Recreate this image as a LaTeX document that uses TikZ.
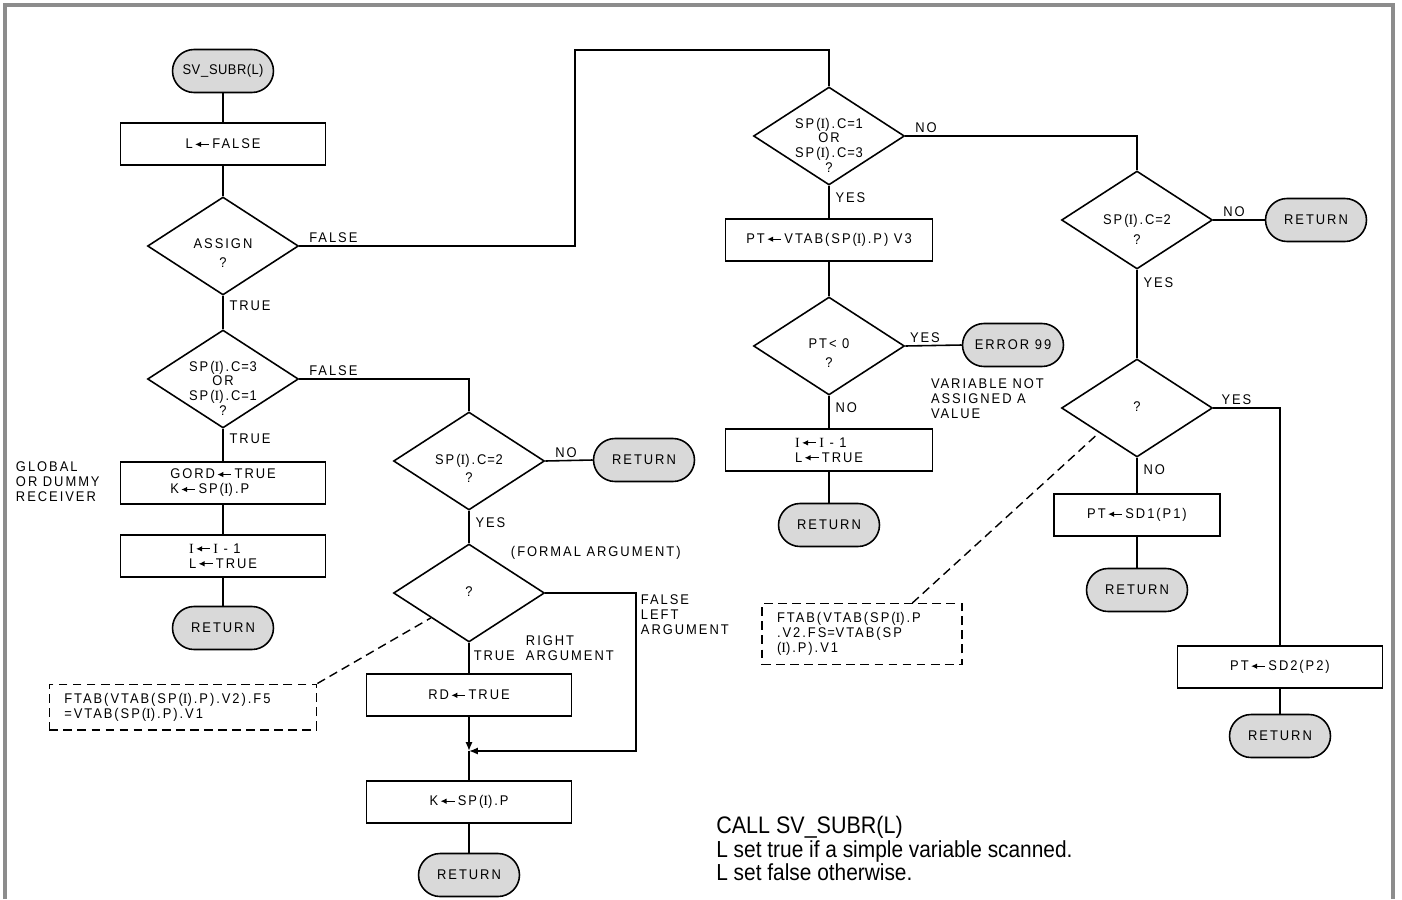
\documentclass[tikz,border=0pt]{standalone}
\usepackage{fontspec}
\setmainfont[LetterSpace=14, FakeStretch=0.92]{Liberation Sans}
\newfontfamily\serifI[LetterSpace=14]{Liberation Serif}
\newfontfamily\capfont[FakeStretch=0.9]{Liberation Sans}
\usepackage{tikz}
\usetikzlibrary{arrows.meta, shapes.geometric, shapes.misc, calc, positioning}

% assignment arrow, serif I, equals sign, diamond text of zero size
\newcommand{\asgn}{\kern1pt\tikz[baseline=-0.6ex]\draw[{Latex[length=3.4pt,width=3.2pt]}-,
  line width=0.7pt] (0pt,0pt) -- (8pt,0pt);\kern1.5pt}
\newcommand{\Ii}{{\serifI I}}
\newcommand{\eq}{\kern0.5pt=\kern0.5pt}
\newcommand{\dtext}[2][-2.5pt]{\smash{\makebox[0pt]{\raisebox{#1}{%
  \begin{tabular}{@{}c@{}}#2\end{tabular}}}}}

\begin{document}
\begin{tikzpicture}[
  x=0.02cm, y=-0.02cm,
  every node/.style = {font=\fontsize{8}{8.5}\selectfont},
  term/.style  = {draw, rounded rectangle, fill=black!15, line width=0.9pt,
                  minimum width=2.16cm, minimum height=0.86cm, inner sep=2pt},
  proc/.style  = {draw, rectangle, line width=0.9pt, align=left,
                  minimum width=4.1cm, minimum height=0.84cm, inner sep=2pt},
  dec/.style   = {draw, diamond, line width=0.9pt, inner sep=0pt,
                  minimum width=3.02cm, minimum height=1.96cm},
  note/.style  = {draw, dashed, dash pattern=on 5pt off 3pt, line width=0.8pt,
                  align=left, text width=#1, inner xsep=8.5pt, inner ysep=5pt},
  lbl/.style   = {inner sep=1.5pt, align=left},
  wire/.style  = {line width=0.9pt},
  lead/.style  = {line width=0.8pt, dash pattern=on 5pt off 3pt},
  tip/.style   = {-{Latex[length=5pt,width=4pt]}},
  frame/.style = {line width=1.8pt, black!45},
]
\useasboundingbox (0,0) rectangle (1402,899);

% Column x-positions
\def\xA{223}    % left column
\def\xB{469}    % formal argument column
\def\xC{829}    % simple / array column
\def\xD{1137}   % right column

% page frame
\draw[frame] (5,899) -- (5,5) -- (1393,5) -- (1393,899);

% ── LEFT COLUMN ─────────────────────────────────────────────────────────────
\node[term] at (\xA,71) (start)
  {\addfontfeatures{LetterSpace=3}SV\kern0.5pt\_\kern0.5pt SUBR(L)};
\node[proc] at (\xA,144) (lfalse) {L\asgn FALSE};
\node[dec] at (\xA,246) (assign) {\dtext[-7pt]{ASSIGN\\[2pt]?}};
\node[dec] at (\xA,379) (sp31)
  {\dtext[-8.5pt]{SP(\Ii).C\eq3\\OR\\SP(\Ii).C\eq1\\?}};
\node[proc] at (\xA,483) (gord) {GORD\asgn TRUE\\K\asgn SP(\Ii).P};
\node[proc] at (\xA,556) (decL) {\Ii\asgn\Ii{} - 1\\L\asgn TRUE};
\node[term] at (\xA,628) (retA) {RETURN};

\node[lbl, anchor=west] at (13,482) (glob) {GLOBAL\\OR DUMMY\\RECEIVER};

\draw[wire] (start.south) -- (lfalse.north);
\draw[wire] (lfalse.south) -- (assign.north);
\draw[wire] (assign.south) -- (sp31.north);
\draw[wire] (sp31.south) -- (gord.north);
\draw[wire] (gord.south) -- (decL.north);
\draw[wire] (decL.south) -- (retA.north);

\node[lbl, anchor=south west, xshift=4pt] at (assign.east) (fA) {FALSE};
\node[lbl, anchor=north west, xshift=2pt, yshift=-1pt] at (assign.south) (tA) {TRUE};
\node[lbl, anchor=south west, xshift=4pt] at (sp31.east) (fB) {FALSE};
\node[lbl, anchor=north west, xshift=2pt, yshift=-1pt] at (sp31.south) (tB) {TRUE};

% ── FORMAL ARGUMENT ─────────────────────────────────────────────────────────
\node[dec] at (\xB,461) (sp2a) {\dtext[-7.5pt]{SP(\Ii).C\eq2\\[2pt]?}};
\node[term] at (644,460) (retB) {RETURN};
\node[dec] at (\xB,593) (fa) {\dtext{?}};
\node[proc] at (\xB,695) (rd) {RD\asgn TRUE};
\node[proc] at (\xB,802) (kp) {K\asgn SP(\Ii).P};
\node[term] at (\xB,875) (retC) {RETURN};
\coordinate (join) at (\xB,751);
\coordinate (leftArg) at (636,751);

\node[note=4.75cm] at (183,707) (noteL)
  {FTAB(VTAB(SP(\Ii).P).V2).F5\\=VTAB(SP(\Ii).P).V1};

\draw[wire] (sp31.east) -| (sp2a.north);
\draw[wire] (sp2a.east) -- (retB.west);
\draw[wire] (sp2a.south) -- (fa.north);
\draw[wire] (fa.south) -- (rd.north);
\draw[wire, tip] (rd.south) -- (join);
\draw[wire, tip] (fa.east) -| (leftArg) -- (join);
\draw[wire] (join) -- (kp.north);
\draw[wire] (kp.south) -- (retC.north);
\draw[lead] (noteL.north east) -- (fa.south west);

\node[lbl, anchor=south west, xshift=4pt] at (sp2a.east) (nA) {NO};
\node[lbl, anchor=north west, xshift=2pt, yshift=-2pt] at (sp2a.south) (yA) {YES};
\node[lbl, anchor=west] at (508,553) (formal) {(FORMAL ARGUMENT)};
\node[lbl, anchor=north west] at (638,592) (leftTxt) {FALSE\\LEFT\\ARGUMENT};
\node[lbl, anchor=north west, xshift=1pt, yshift=-3pt] at (fa.south) (tC) {TRUE};
\node[lbl, anchor=west] at (523,648) (rightTxt) {RIGHT\\ARGUMENT};

% ── SIMPLE VARIABLE ─────────────────────────────────────────────────────────
\coordinate (falseTop) at (575,50);
\node[dec] at (\xC,136) (sp13)
  {\dtext[-8.5pt]{SP(\Ii).C\eq1\\OR\\SP(\Ii).C\eq3\\?}};
\node[proc, minimum width=4.14cm] at (\xC,240) (ptv) {PT\asgn VTAB(SP(\Ii).P) V3};
\node[dec] at (\xC,346) (pt0) {\dtext[-7pt]{PT< 0\\[2pt]?}};
\node[term] at (1013,345) (err) {ERROR 99};
\node[proc, minimum width=4.14cm] at (\xC,450) (decM) {\Ii\asgn\Ii{} - 1\\L\asgn TRUE};
\node[term] at (\xC,525) (retD) {RETURN};

\node[lbl, anchor=north west] at (928,376) (varn) {VARIABLE NOT\\ASSIGNED A\\VALUE};
\node[note=3.4cm] at (862,634) (noteR)
  {FTAB(VTAB(SP(\Ii).P\\.V2.FS\eq VTAB(SP\\(\Ii).P).V1};

\draw[wire] (assign.east) -| (falseTop) -| (sp13.north);
\draw[wire] (sp13.south) -- (ptv.north);
\draw[wire] (ptv.south) -- (pt0.north);
\draw[wire] (pt0.east) -- (err.west);
\draw[wire] (pt0.south) -- (decM.north);
\draw[wire] (decM.south) -- (retD.north);

\node[lbl, anchor=south west, xshift=4pt] at (sp13.east) (nB) {NO};
\node[lbl, anchor=north west, xshift=2pt, yshift=-2pt] at (sp13.south) (yB) {YES};
\node[lbl, anchor=south west, xshift=1pt] at (pt0.east) (yC) {YES};
\node[lbl, anchor=north west, xshift=2pt, yshift=-2pt] at (pt0.south) (nC) {NO};

% ── RIGHT COLUMN ────────────────────────────────────────────────────────────
\node[dec] at (\xD,220) (sp2b) {\dtext[-8.5pt]{SP(\Ii).C\eq2\\[3pt]?}};
\node[term] at (1316,220) (retE) {RETURN};
\node[dec] at (\xD,408) (qR) {\dtext{?}};
\node[proc, minimum width=3.32cm] at (\xD,515) (sd1) {PT\asgn SD1(P1)};
\node[term] at (\xD,590) (retF) {RETURN};
\node[proc] at (1280,667) (sd2) {PT\asgn SD2(P2)};
\node[term] at (1280,736) (retG) {RETURN};

\draw[wire] (sp13.east) -| (sp2b.north);
\draw[wire] (sp2b.east) -- (retE.west);
\draw[wire] (sp2b.south) -- (qR.north);
\draw[wire] (qR.east) -| (sd2.north);
\draw[wire] (qR.south) -- (sd1.north);
\draw[wire] (sd1.south) -- (retF.north);
\draw[wire] (sd2.south) -- (retG.north);
\draw[lead] ($(noteR.north)!0.5!(noteR.north east)$) -- (qR.south west);

\node[lbl, anchor=south west, xshift=4pt] at (sp2b.east) (nD) {NO};
\node[lbl, anchor=north west, xshift=2pt, yshift=-3pt] at (sp2b.south) (yD) {YES};
\node[lbl, anchor=south west, xshift=3pt] at (qR.east) (yE) {YES};
\node[lbl, anchor=north west, xshift=2pt, yshift=-2pt] at (qR.south) (nE) {NO};

% ── CAPTION ─────────────────────────────────────────────────────────────────
\node[anchor=north west, align=left, inner sep=0pt,
      font=\capfont\fontsize{13.2}{13.2}\selectfont] at (716,816) (capt)
  {{\fontsize{13.6}{13.6}\selectfont CALL SV\_SUBR(L)}\\[0.5pt]
   L set true if a simple variable scanned.\\
   L set false otherwise.};

\end{tikzpicture}
\end{document}
